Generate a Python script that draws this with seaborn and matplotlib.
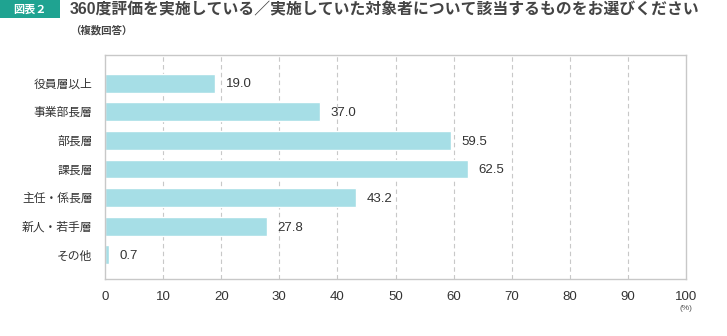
import matplotlib
matplotlib.use("Agg")
import matplotlib.pyplot as plt
import seaborn as sns
import pandas as pd

categories = ["役員層以上", "事業部長層", "部長層", "課長層", "主任・係長層", "新人・若手層", "その他"]
values = [19.0, 37.0, 59.5, 62.5, 43.2, 27.8, 0.7]
xticks = [0, 10, 20, 30, 40, 50, 60, 70, 80, 90, 100]

sns.set_theme(style="white")
plt.rcParams["font.family"] = ["Liberation Sans", "Noto Sans CJK JP", "DejaVu Sans"]

df = pd.DataFrame({"cat": categories, "val": values})

fig = plt.figure(figsize=(7.27, 3.36), dpi=100)
W, H = 727, 336
ax = fig.add_axes([105 / W, 1 - 279 / H, (686 - 105) / W, (279 - 55) / H])

sns.barplot(data=df, x="val", y="cat", color="#a6dee6", saturation=1, width=0.66, ax=ax)
ax.set_xlim(0, 100)
ax.set_ylim(6.84, -0.98)
ax.set_xticks(xticks)
ax.set_xticklabels([str(t) for t in xticks], fontsize=9.5, color="#333333")
ax.set_xlabel("")
ax.set_ylabel("")
ax.tick_params(axis="y", labelsize=8.5, labelcolor="#333333", length=0, pad=9)
ax.tick_params(axis="x", length=0, pad=9)
for s in ax.spines.values():
    s.set_color("#c8c8c8")
    s.set_linewidth(1.0)
for t in xticks[1:-1]:
    ax.axvline(t, color="#c8c8c8", linestyle=(0, (4, 3)), linewidth=0.8, zorder=0)

for i, v in enumerate(values):
    ax.annotate(f"{v:.1f}", xy=(v, i), xytext=(7.5, -1), textcoords="offset points",
                va="center", ha="left", fontsize=9.5, color="#333333")

ax.text(1.0, -0.115, "(%)", transform=ax.transAxes, ha="center", va="top", fontsize=6, color="#555555")

# Title block
fig.patches.append(matplotlib.patches.Rectangle((0, 1 - 18 / H), 60 / W, 18 / H,
                   transform=fig.transFigure, facecolor="#1fa391", edgecolor="none"))
fig.text(30 / W, 1 - 9.5 / H, "図表２", ha="center", va="center", color="white", fontsize=8, fontweight="bold")
fig.text(70 / W, 1 - 10 / H, "360度評価を実施している／実施していた対象者について該当するものをお選びください",
         ha="left", va="center", color="#444444", fontsize=11.4, fontweight="bold")
fig.text(70 / W, 1 - 30 / H, "（複数回答）", ha="left", va="center", color="#444444", fontsize=7.5, fontweight="bold")

fig.savefig("out.png", dpi=100)
